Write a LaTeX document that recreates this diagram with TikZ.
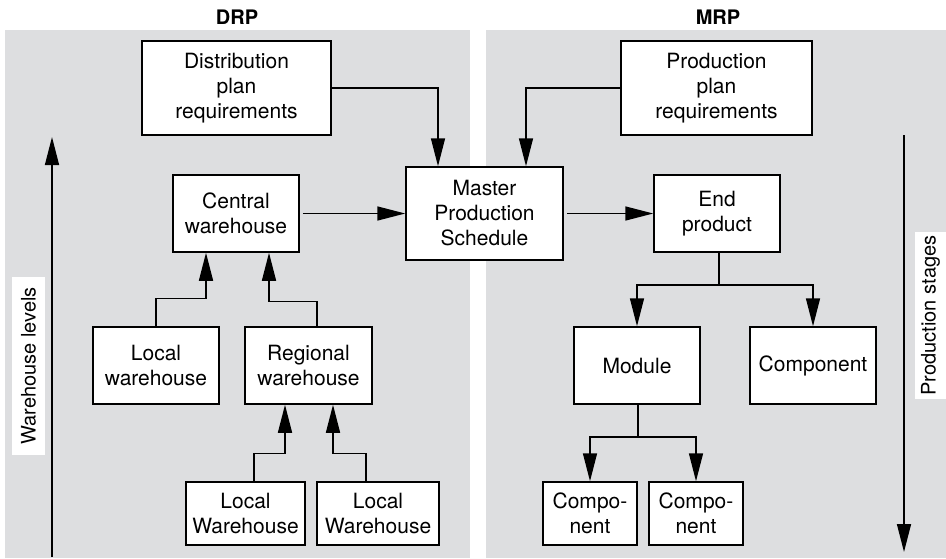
\documentclass[tikz,border=0pt]{standalone}
\usepackage{fontspec}
\setmainfont{TeX Gyre Heros}
\usetikzlibrary{positioning,arrows.meta}

\tikzset{
  block/.style={draw, fill=white, line width=1.5pt, align=center,
    inner sep=2pt, font=\fontsize{21}{25}\selectfont},
  link/.style={line width=1.5pt, -{Triangle[length=28pt,width=14pt]}},
  axislabel/.style={fill=white, rotate=90, inner sep=0pt,
    font=\fontsize{20}{24}\selectfont},
}

\begin{document}
\begin{tikzpicture}[x=1pt, y=-1pt]
  \definecolor{panel}{HTML}{DDDEE0}
  \useasboundingbox (0,0) rectangle (946,558);
  \fill[panel] (5,30) rectangle (470,558);
  \fill[panel] (486,30) rectangle (946,558);

  \node[font=\fontsize{20}{24}\selectfont\bfseries] (drp) at (237,17) {DRP};
  \node[font=\fontsize{20}{24}\selectfont\bfseries] (mrp) at (718,17) {MRP};

  % plans and schedule
  \node[block, minimum width=189pt, minimum height=94pt] (dpr) at (236.5,88) {Distribution\\plan\\requirements};
  \node[block, minimum width=191pt, minimum height=94pt] (ppr) at (716.5,88) {Production\\plan\\requirements};
  \node[block, minimum width=157pt, minimum height=93pt] (mps) at (484.5,213.5) {Master\\Production\\Schedule};

  % warehouses
  \node[block, minimum width=126pt, minimum height=77pt] (cw) at (236,213.5) {Central\\warehouse};
  \node[block, minimum width=126pt, minimum height=77pt] (lw) at (156,365.5) {Local\\warehouse};
  \node[block, minimum width=127pt, minimum height=77pt] (rw) at (308.5,365.5) {Regional\\warehouse};
  \node[block, minimum width=119pt, minimum height=63pt] (lwa) at (245.5,513.5) {Local\\Warehouse};
  \node[block, minimum width=122pt, minimum height=63pt] (lwb) at (378,513.5) {Local\\Warehouse};

  % products
  \node[block, minimum width=126pt, minimum height=77pt] (ep) at (717,213.5) {End\\product};
  \node[block, minimum width=126pt, minimum height=77pt] (mod) at (637,365.5) {Module};
  \node[block, minimum width=126pt, minimum height=77pt] (comp) at (813,365.5) {Component};
  \node[block, minimum width=94pt, minimum height=63pt] (ca) at (590,513.5) {Compo-\\nent};
  \node[block, minimum width=94pt, minimum height=63pt] (cb) at (696,513.5) {Compo-\\nent};

  \draw[link] (dpr.east) -| ([xshift=-46.5pt]mps.north);
  \draw[link] (ppr.west) -| ([xshift=41.5pt]mps.north);
  \draw[link] ([xshift=3pt]cw.east) -- (mps.west);
  \draw[link] ([xshift=3pt]mps.east) -- (ep.west);

  \draw[link] (lw.north) -- ++(0,-28) -| ([xshift=-30pt]cw.south);
  \draw[link] ([xshift=8.5pt]rw.north) -- ++(0,-25) -| ([xshift=33pt]cw.south);
  \draw[link] ([xshift=8.5pt]lwa.north) -- ++(0,-28) -| ([xshift=-23.5pt]rw.south);
  \draw[link] ([xshift=-12pt]lwb.north) -- ++(0,-28) -| ([xshift=24.5pt]rw.south);

  \draw[line width=1.5pt] ([xshift=2pt]ep.south) -- ++(0,32) coordinate (epj);
  \draw[link] (epj) -| (mod.north);
  \draw[link] (epj) -| (comp.north);
  \draw[line width=1.5pt] ([xshift=1pt]mod.south) -- ++(0,32) coordinate (modj);
  \draw[link] (modj) -| (ca.north);
  \draw[link] (modj) -| (cb.north);

  % level axes
  \coordinate (wlb) at (52,557);
  \coordinate (wlt) at (52,137);
  \draw[link] (wlb) -- (wlt);
  \node[axislabel, minimum width=178pt, minimum height=33pt] (wl) at (28.5,366) {Warehouse levels};
  \coordinate (pst) at (904,135);
  \coordinate (psb) at (904,552);
  \draw[link] (pst) -- (psb);
  \node[axislabel, minimum width=167pt, minimum height=31pt] (ps) at (930.5,315.5) {Production stages};
\end{tikzpicture}
\end{document}
